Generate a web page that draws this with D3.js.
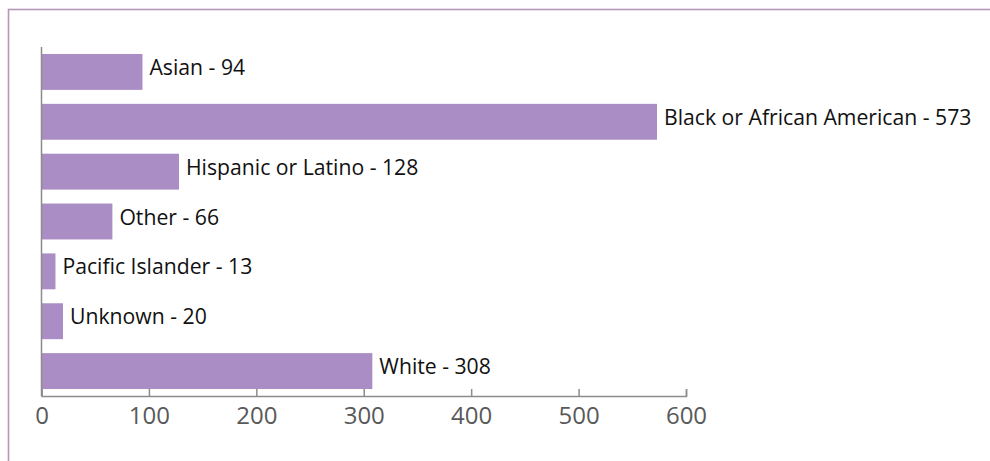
<!DOCTYPE html>
<html>
<head>
<meta charset="utf-8">
<script src="https://cdn.jsdelivr.net/npm/d3@7"></script>
<style>
  html, body { margin: 0; padding: 0; background: #fff; }
  svg { display: block; }
</style>
</head>
<body>
<svg id="chart" width="990" height="461"></svg>
<script>
// Headcount by race / ethnicity
const categories = ["Asian", "Black or African American", "Hispanic or Latino", "Other", "Pacific Islander", "Unknown", "White"];
const counts = [94, 573, 128, 66, 13, 20, 308];
const xTicks = [0, 100, 200, 300, 400, 500, 600];

(function draw() {
  const svg = d3.select("#chart");
  const W = 990, H = 461;
  const plotLeft = 41.5, plotRight = 686, plotTop = 47, plotBottom = 396;

  // Frame around the chart area
  svg.append("rect")
    .attr("x", 8.5).attr("y", 9.5)
    .attr("width", W + 20).attr("height", H + 20)
    .attr("fill", "none")
    .attr("stroke", "#b996b9")
    .attr("stroke-width", 1.6);

  const x = d3.scaleLinear().domain([0, 600]).range([plotLeft, plotRight]);
  const y = d3.scaleBand().domain(categories).range([plotTop, plotBottom])
    .paddingInner(0.28).paddingOuter(0.14);

  // Bars
  svg.append("g").selectAll("rect")
    .data(categories)
    .join("rect")
    .attr("x", x(0))
    .attr("y", d => y(d))
    .attr("width", (d, i) => x(counts[i]) - x(0))
    .attr("height", y.bandwidth())
    .attr("fill", "#a98dc4");

  // Value labels
  svg.append("g").selectAll("text")
    .data(categories)
    .join("text")
    .attr("x", (d, i) => x(counts[i]) + 7)
    .attr("y", d => y(d) + y.bandwidth() / 2 + 3)
    .attr("font-family", "'Open Sans', sans-serif")
    .attr("font-size", 21.2)
    .attr("fill", "#111")
    .text((d, i) => `${d} - ${counts[i]}`);

  // X axis with inward ticks
  const xAxis = d3.axisBottom(x).tickValues(xTicks).tickSize(-7).tickPadding(11);
  const gx = svg.append("g").attr("transform", `translate(0,${plotBottom})`).call(xAxis);
  gx.select(".domain").attr("stroke", "#8c8c8c").attr("stroke-width", 1.5);
  gx.selectAll(".tick line").attr("stroke", "#8c8c8c").attr("stroke-width", 1.5);
  gx.selectAll(".tick text")
    .attr("font-family", "'Open Sans', sans-serif")
    .attr("font-size", 24)
    .attr("fill", "#595959");

  // Category axis line (labels are drawn beside the bars)
  svg.append("line")
    .attr("x1", x(0)).attr("x2", x(0))
    .attr("y1", plotTop).attr("y2", plotBottom)
    .attr("stroke", "#8c8c8c").attr("stroke-width", 1.5);
})();
</script>
</body>
</html>
